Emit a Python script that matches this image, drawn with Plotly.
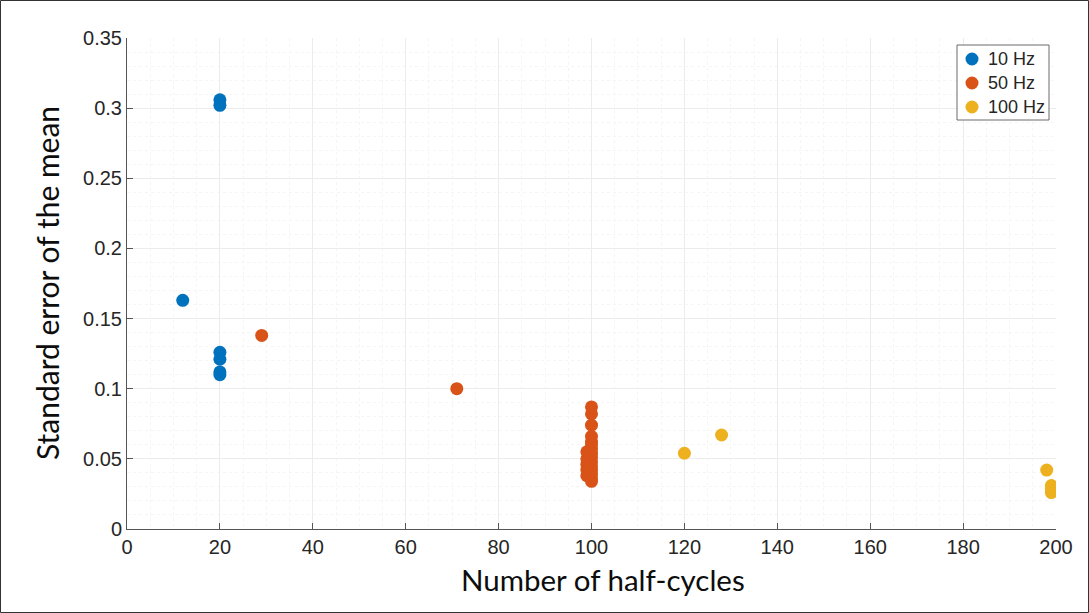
import plotly.graph_objects as go

# ---- data ----
x_10hz = [12, 20, 20, 20, 20, 20, 20]
y_10hz = [0.163, 0.306, 0.302, 0.126, 0.121, 0.112, 0.110]

x_50hz = [29, 71, 100, 100, 100, 100, 100, 100, 100, 100, 100, 100, 100, 100, 100, 100, 100,
          99, 99, 99, 99, 99]
y_50hz = [0.138, 0.100, 0.087, 0.082, 0.074, 0.066, 0.062, 0.060, 0.057, 0.054, 0.051, 0.048,
          0.045, 0.042, 0.039, 0.036, 0.034,
          0.055, 0.050, 0.046, 0.042, 0.038]

x_100hz = [120, 128, 198, 199, 199, 199]
y_100hz = [0.054, 0.067, 0.042, 0.031, 0.029, 0.026]

series_names = ["10 Hz", "50 Hz", "100 Hz"]
series_colors = ["#0072BD", "#D95319", "#EDB120"]

x_ticks = [0, 20, 40, 60, 80, 100, 120, 140, 160, 180, 200]
y_ticks = [0, 0.05, 0.1, 0.15, 0.2, 0.25, 0.3, 0.35]
y_tick_labels = ["0", "0.05", "0.1", "0.15", "0.2", "0.25", "0.3", "0.35"]

x_title = "Number of half-cycles"
y_title = "Standard error of the mean"

series = list(zip(series_names, [x_10hz, x_50hz, x_100hz], [y_10hz, y_50hz, y_100hz], series_colors))

fig = go.Figure()
for name, xs, ys, col in series:
    fig.add_trace(go.Scatter(x=xs, y=ys, mode="markers", name=name, showlegend=False,
                             marker=dict(color=col, size=13, line=dict(width=0))))

W, H = 1089, 613
L, R, T, B = 127, 33, 38, 84
pw, ph = W - L - R, H - T - B

def px(xp):  # pixel x -> paper
    return (xp - L) / pw

def py(yp):  # pixel y -> paper
    return (H - B - yp) / ph

font = "Liberation Sans, Arial, sans-serif"
title_font = "Lato, Open Sans, sans-serif"
fig.update_layout(
    width=W, height=H,
    margin=dict(l=L, r=R, t=T, b=B),
    paper_bgcolor="white", plot_bgcolor="white",
    font=dict(family=font, color="#262626"),
    xaxis=dict(range=[0, 200], tickvals=x_ticks, ticks="inside", ticklen=6,
               tickcolor="#555555", showline=True, linecolor="#555555", linewidth=1,
               showgrid=True, gridcolor="#ececec", gridwidth=1, zeroline=False,
               minor=dict(dtick=5, showgrid=True, gridcolor="#f5f5f5", griddash="dot"),
               tickfont=dict(size=20, color="#262626")),
    yaxis=dict(range=[0, 0.35], tickvals=y_ticks, ticktext=y_tick_labels, ticks="inside", ticklen=6,
               tickcolor="#555555", showline=True, linecolor="#555555", linewidth=1,
               showgrid=True, gridcolor="#ececec", gridwidth=1, zeroline=False,
               minor=dict(dtick=0.01, showgrid=True, gridcolor="#f5f5f5", griddash="dot"),
               tickfont=dict(size=20, color="#262626")),
)

# axis titles
fig.add_annotation(xref="paper", yref="paper", x=px(603), y=py(579),
                   xanchor="center", yanchor="middle", showarrow=False,
                   text=x_title, font=dict(size=29.5, color="#0d0d0d", family=title_font))
fig.add_annotation(xref="paper", yref="paper", x=px(47), y=py(283),
                   xanchor="center", yanchor="middle", showarrow=False, textangle=-90,
                   text=y_title, font=dict(size=30, color="#0d0d0d", family=title_font))

# legend drawn as a box with markers and labels
leg_left, leg_right, leg_top, leg_bot = 957, 1049, 45, 120
fig.add_shape(type="rect", xref="paper", yref="paper",
              x0=px(leg_left), x1=px(leg_right), y0=py(leg_bot), y1=py(leg_top),
              line=dict(color="#6b6b6b", width=1), fillcolor="white", layer="above")
row_y = [59, 83, 107]
for name, col, ry in zip(series_names, series_colors, row_y):
    fig.add_shape(type="circle", xref="paper", yref="paper",
                  xsizemode="pixel", ysizemode="pixel",
                  xanchor=px(972), yanchor=py(ry),
                  x0=-6.5, x1=6.5, y0=-6.5, y1=6.5,
                  line=dict(width=0), fillcolor=col, layer="above")
    fig.add_annotation(xref="paper", yref="paper", x=px(986), y=py(ry),
                       xanchor="left", yanchor="middle", showarrow=False,
                       text=name, font=dict(size=18, color="#262626", family=font))

# outer frame of the image
fig.add_shape(type="rect", xref="paper", yref="paper",
              x0=(-L + 0.5) / pw, x1=1 + (R - 0.5) / pw,
              y0=(-B + 0.5) / ph, y1=1 + (T - 0.5) / ph,
              line=dict(color="#333333", width=1), fillcolor="rgba(0,0,0,0)", layer="above")

fig.write_html("out.html")
